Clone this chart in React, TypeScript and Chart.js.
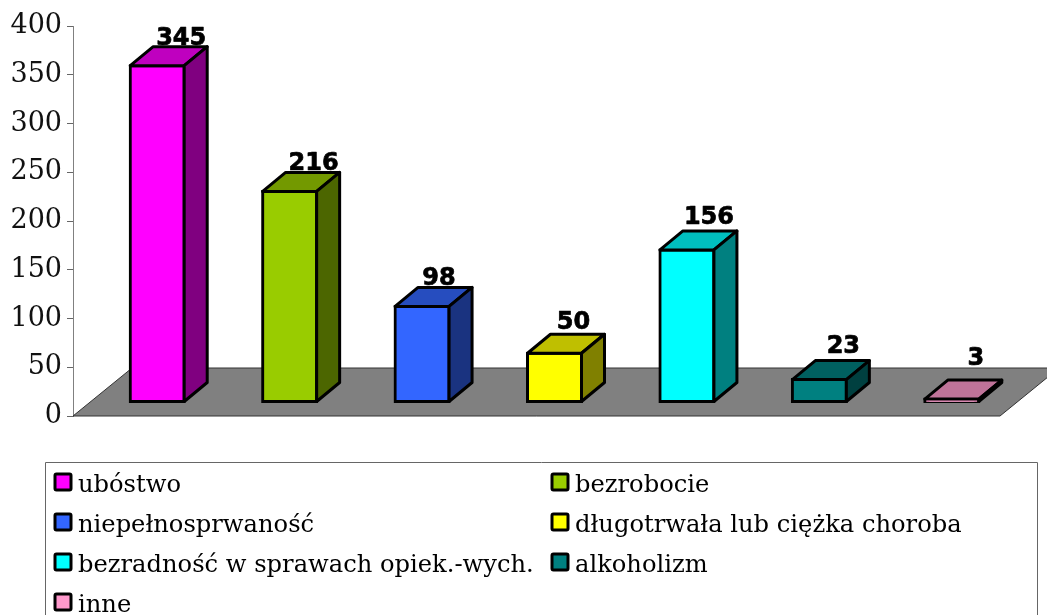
import React, { useEffect, useRef } from "react";
import { Chart, registerables } from "chart.js";

Chart.register(...registerables);

const categories = [
  "ubóstwo",
  "bezrobocie",
  "niepełnosprwaność",
  "długotrwała lub ciężka choroba",
  "bezradność w sprawach opiek.-wych.",
  "alkoholizm",
  "inne",
];
const values = [345, 216, 98, 50, 156, 23, 3];
const frontColors = ["#FF00FF", "#99CC00", "#3366FF", "#FFFF00", "#00FFFF", "#008080", "#FF99CC"];
const topColors = ["#BF00BF", "#739900", "#264DBF", "#BFBF00", "#00BFBF", "#006060", "#BF7399"];
const sideColors = ["#800080", "#4C6600", "#1A3380", "#808000", "#008080", "#004040", "#804C66"];

const W = 1047;
const H = 615;
const SHIFT_X = 18;
const SHIFT_Y = -14;
const BAR_DX = 23;
const BAR_DY = -19;
const FLOOR_DX = 59;
const FLOOR_DY = -48;
const LABEL_LIFT = [2, 2, 2, 5, 7, 8, 15];
const LABEL_NUDGE = [0, 0, -7, -5, -2, 0, 0];

const threeD = {
  id: "threeD",
  beforeDatasetsDraw(chart: any) {
    const { ctx, chartArea: a } = chart;
    ctx.save();
    ctx.beginPath();
    ctx.moveTo(a.left, a.bottom);
    ctx.lineTo(a.right, a.bottom);
    ctx.lineTo(a.right + FLOOR_DX, a.bottom + FLOOR_DY);
    ctx.lineTo(a.left + FLOOR_DX, a.bottom + FLOOR_DY);
    ctx.closePath();
    ctx.fillStyle = "#808080";
    ctx.fill();
    ctx.strokeStyle = "#333333";
    ctx.lineWidth = 1;
    ctx.stroke();
    ctx.restore();
    ctx.save();
    ctx.translate(SHIFT_X, SHIFT_Y);
  },
  afterDatasetsDraw(chart: any) {
    const { ctx } = chart;
    const bars = chart.getDatasetMeta(0).data;
    ctx.lineWidth = 3;
    ctx.lineJoin = "round";
    ctx.strokeStyle = "#000000";
    bars.forEach((bar: any, i: number) => {
      const half = bar.width / 2;
      const l = bar.x - half;
      const r = bar.x + half;
      const t = bar.y;
      const b = bar.base;
      ctx.beginPath();
      ctx.moveTo(l, t);
      ctx.lineTo(l + BAR_DX, t + BAR_DY);
      ctx.lineTo(r + BAR_DX, t + BAR_DY);
      ctx.lineTo(r, t);
      ctx.closePath();
      ctx.fillStyle = topColors[i];
      ctx.fill();
      ctx.stroke();
      ctx.beginPath();
      ctx.moveTo(r, t);
      ctx.lineTo(r + BAR_DX, t + BAR_DY);
      ctx.lineTo(r + BAR_DX, b + BAR_DY);
      ctx.lineTo(r, b);
      ctx.closePath();
      ctx.fillStyle = sideColors[i];
      ctx.fill();
      ctx.stroke();
    });
    ctx.fillStyle = "#000000";
    ctx.strokeStyle = "#000000";
    ctx.lineWidth = 0.7;
    ctx.font = "bold 24px 'DejaVu Sans'";
    ctx.textAlign = "center";
    ctx.textBaseline = "alphabetic";
    bars.forEach((bar: any, i: number) => {
      const lx = bar.x + BAR_DX + 1 + LABEL_NUDGE[i];
      const ly = bar.y + BAR_DY - LABEL_LIFT[i];
      ctx.fillText(String(values[i]), lx, ly);
      ctx.strokeText(String(values[i]), lx, ly);
    });
    ctx.restore();
  },
  afterDraw(chart: any) {
    const { ctx } = chart;
    ctx.save();
    ctx.strokeStyle = "#666666";
    ctx.lineWidth = 1;
    ctx.beginPath();
    ctx.moveTo(45.5, H + 2);
    ctx.lineTo(45.5, 462.5);
    ctx.lineTo(1037.5, 462.5);
    ctx.lineTo(1037.5, H + 2);
    ctx.stroke();
    ctx.font = "24.2px 'DejaVu Serif'";
    ctx.textAlign = "left";
    ctx.textBaseline = "alphabetic";
    categories.forEach((name, i) => {
      const col = i % 2;
      const row = Math.floor(i / 2);
      const x = col === 0 ? 55 : 552;
      const y = 474 + row * 40;
      ctx.beginPath();
      ctx.roundRect(x, y, 16, 16, 1.5);
      ctx.fillStyle = frontColors[i];
      ctx.fill();
      ctx.strokeStyle = "#000000";
      ctx.lineWidth = 3;
      ctx.stroke();
      ctx.fillStyle = "#000000";
      ctx.fillText(name, x + 23, y + 18);
    });
    ctx.restore();
  },
};

export default function App() {
  const ref = useRef<HTMLCanvasElement>(null);
  useEffect(() => {
    const chart = new Chart(ref.current as HTMLCanvasElement, {
      type: "bar",
      data: {
        labels: categories,
        datasets: [
          {
            data: values,
            backgroundColor: frontColors,
            borderColor: "#000000",
            borderWidth: 3,
            borderSkipped: false,
            inflateAmount: 1.5,
            barThickness: 54,
            clip: false,
          } as any,
        ],
      },
      plugins: [threeD],
      options: {
        responsive: false,
        animation: false,
        layout: { padding: { top: 26, right: 47, bottom: 199, left: 0 } },
        plugins: { legend: { display: false }, tooltip: { enabled: false } },
        scales: {
          x: { display: false },
          y: {
            min: 0,
            max: 400,
            afterFit: (s: any) => {
              s.width = 73;
            },
            border: { display: true, color: "#808080", width: 1 },
            grid: { drawOnChartArea: false, tickLength: 6, color: "#666666", tickColor: "#666666" },
            ticks: {
              stepSize: 50,
              color: "#111111",
              padding: 5,
              font: { family: "'DejaVu Serif'", size: 27 },
            },
          },
        },
      },
    });
    return () => chart.destroy();
  }, []);
  return (
    <canvas
      ref={ref}
      width={W}
      height={H}
      style={{ position: "fixed", left: 0, top: 0, width: W, height: H, background: "#ffffff" }}
    />
  );
}
